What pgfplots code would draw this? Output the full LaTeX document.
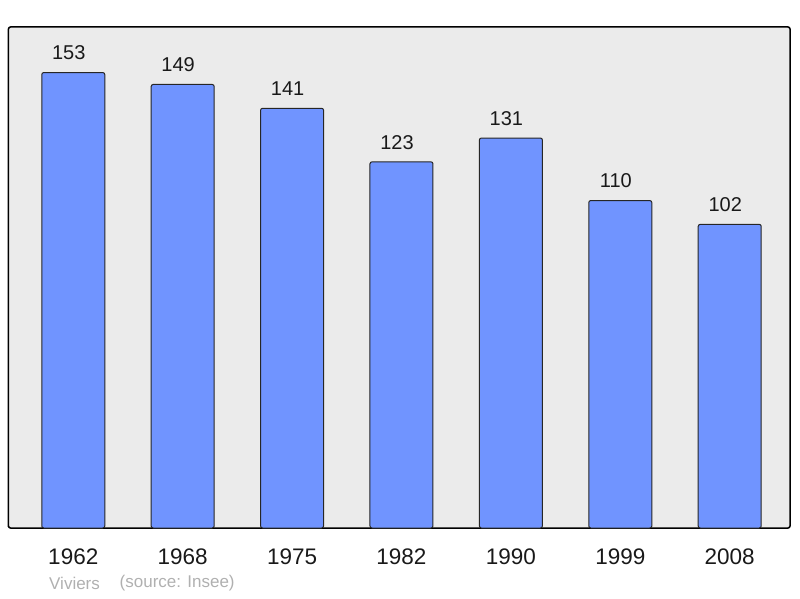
\documentclass[border=0pt]{standalone}
\usepackage{pgfplots}
\pgfplotsset{compat=1.18}
\usepackage{fontspec}
\setmainfont{Liberation Sans}
\definecolor{bgc}{HTML}{EBEBEB}
\definecolor{barc}{HTML}{7094FF}
\definecolor{footc}{HTML}{B0B0B0}
\begin{document}
\begin{tikzpicture}
\path[use as bounding box] (-8.5pt,-70pt) rectangle (791.5pt,528pt);
\begin{axis}[
  scale only axis,
  width=781.5pt, height=501pt,
  xmin=-0.592, xmax=6.551,
  ymin=0, ymax=168.3,
  axis background/.style={fill=bgc},
  axis line style={line width=1.5pt, black, rounded corners=2pt},
  /pgf/number format/assume math mode=true,
  xtick=data,
  xticklabels={1962,1968,1975,1982,1990,1999,2008},
  ytick=\empty,
  major tick length=0pt,
  xticklabel style={anchor=center, yshift=-29pt, font=\fontsize{22.5}{24}\selectfont, text=black!90},
  ybar, bar width=63pt, bar shift=0pt,
  nodes near coords,
  every node near coord/.append style={anchor=center, xshift=-4.5pt, yshift=19.5pt, font=\fontsize{20}{22}\selectfont, text=black!90},
]
\addplot[fill=barc, draw=black!85, line width=1pt, rounded corners=2pt] coordinates {
  (0,153) (1,149) (2,141) (3,123) (4,131) (5,110) (6,102)
};
\end{axis}
\node[anchor=west, inner sep=0pt, text=footc, font=\fontsize{17}{19}\selectfont] at (40.5pt,-55pt) {Viviers};
\node[anchor=west, inner sep=0pt, text=footc, font=\fontsize{17}{19}\selectfont] at (111pt,-55pt) {(source: Insee)};
\end{tikzpicture}
\end{document}
